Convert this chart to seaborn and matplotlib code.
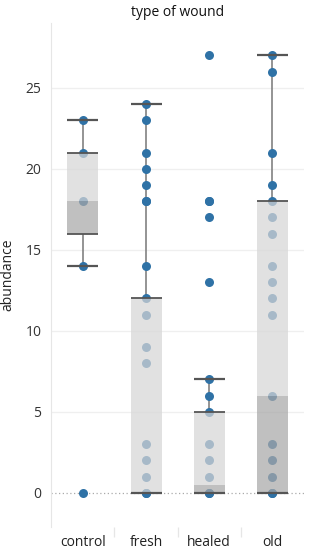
import pandas as pd
import seaborn as sns
import matplotlib.pyplot as plt

# categories and the observed points for each
categories = ["control", "fresh", "healed", "old"]
control_vals = [23, 21, 18, 14, 0]
fresh_vals = [24, 23, 21, 20, 19, 18, 18, 14, 12, 11, 9, 8, 3, 2, 1, 0, 0]
healed_vals = [27, 18, 18, 17, 13, 7, 6, 5, 3, 2, 1, 0, 0]
old_vals = [27, 26, 21, 19, 18, 17, 16, 14, 13, 12, 11, 6, 3, 2, 1, 0, 0]

# box statistics
q1 = [16, 0, 0, 0]
median = [18, 0, 0.5, 6]
q3 = [21, 12, 5, 18]
whisker_lo = [14, 0, 0, 0]
whisker_hi = [23, 24, 7, 27]

yticks = [0, 5, 10, 15, 20, 25]

df = pd.DataFrame({
    "wound": (["control"] * len(control_vals) + ["fresh"] * len(fresh_vals)
              + ["healed"] * len(healed_vals) + ["old"] * len(old_vals)),
    "abundance": control_vals + fresh_vals + healed_vals + old_vals,
})

sns.set_style("white")
plt.rcParams['font.family'] = ['Open Sans', 'DejaVu Sans']

fig = plt.figure(figsize=(3.1, 5.5), dpi=100)
ax = fig.add_axes([0.165, 0.042, 0.816, 0.916])

# points
sns.stripplot(data=df, x="wound", y="abundance", order=categories, jitter=False,
              color="#2f72a6", size=6.5, linewidth=0, ax=ax, zorder=3)

pos = list(range(len(categories)))
w = 0.49

# whisker stems behind the dots
ax.vlines(pos, whisker_lo, q1, color="#777777", lw=1.1, zorder=2)
ax.vlines(pos, q3, whisker_hi, color="#777777", lw=1.1, zorder=2)

# box halves, drawn over the dots
lower_h = [m - a for a, m in zip(q1, median)]
upper_h = [b - m for m, b in zip(median, q3)]
ax.bar(pos, lower_h, bottom=q1, width=w, color="#a8a8a8", alpha=0.72, zorder=4, linewidth=0)
ax.bar(pos, upper_h, bottom=median, width=w, color="#d6d6d6", alpha=0.72, zorder=4, linewidth=0)

# box edges and whisker caps
left = [p - w / 2 for p in pos]
right = [p + w / 2 for p in pos]
ax.hlines(q1, left, right, color="#555555", lw=1.3, zorder=5)
ax.hlines(q3, left, right, color="#555555", lw=1.3, zorder=5)
ax.hlines(whisker_lo, left, right, color="#555555", lw=1.6, zorder=5)
ax.hlines(whisker_hi, left, right, color="#555555", lw=1.6, zorder=5)

# zero line and grid
ax.axhline(0, color="#aaaaaa", lw=0.9, ls=(0, (1, 2)), zorder=1)
for t in yticks[1:]:
    ax.axhline(t, color="#efefef", lw=0.9, zorder=0)

ax.set_xlim(-0.5, 3.5)
ax.set_ylim(-2.1, 29.0)
ax.set_yticks(yticks)
ax.set_xlabel("")
ax.set_ylabel("abundance", fontsize=10, color="#222222", labelpad=7)

for side in ["top", "right", "bottom"]:
    ax.spines[side].set_visible(False)
ax.spines["left"].set_color("#e6e6e6")

ax.tick_params(axis="y", length=0, labelsize=10, labelcolor="#333333", pad=7)
ax.tick_params(axis="x", length=0, labelsize=10, labelcolor="#222222", pad=6)
# faint separators between the category labels
ax.set_xticks([0.5, 1.5, 2.5], minor=True)
ax.tick_params(axis="x", which="minor", bottom=True, length=7, color="#e6e6e6", width=0.9)

fig.text(0.573, 0.978, "type of wound", ha="center", va="center", fontsize=10, color="#111111")

plt.savefig("out.png", dpi=100)
